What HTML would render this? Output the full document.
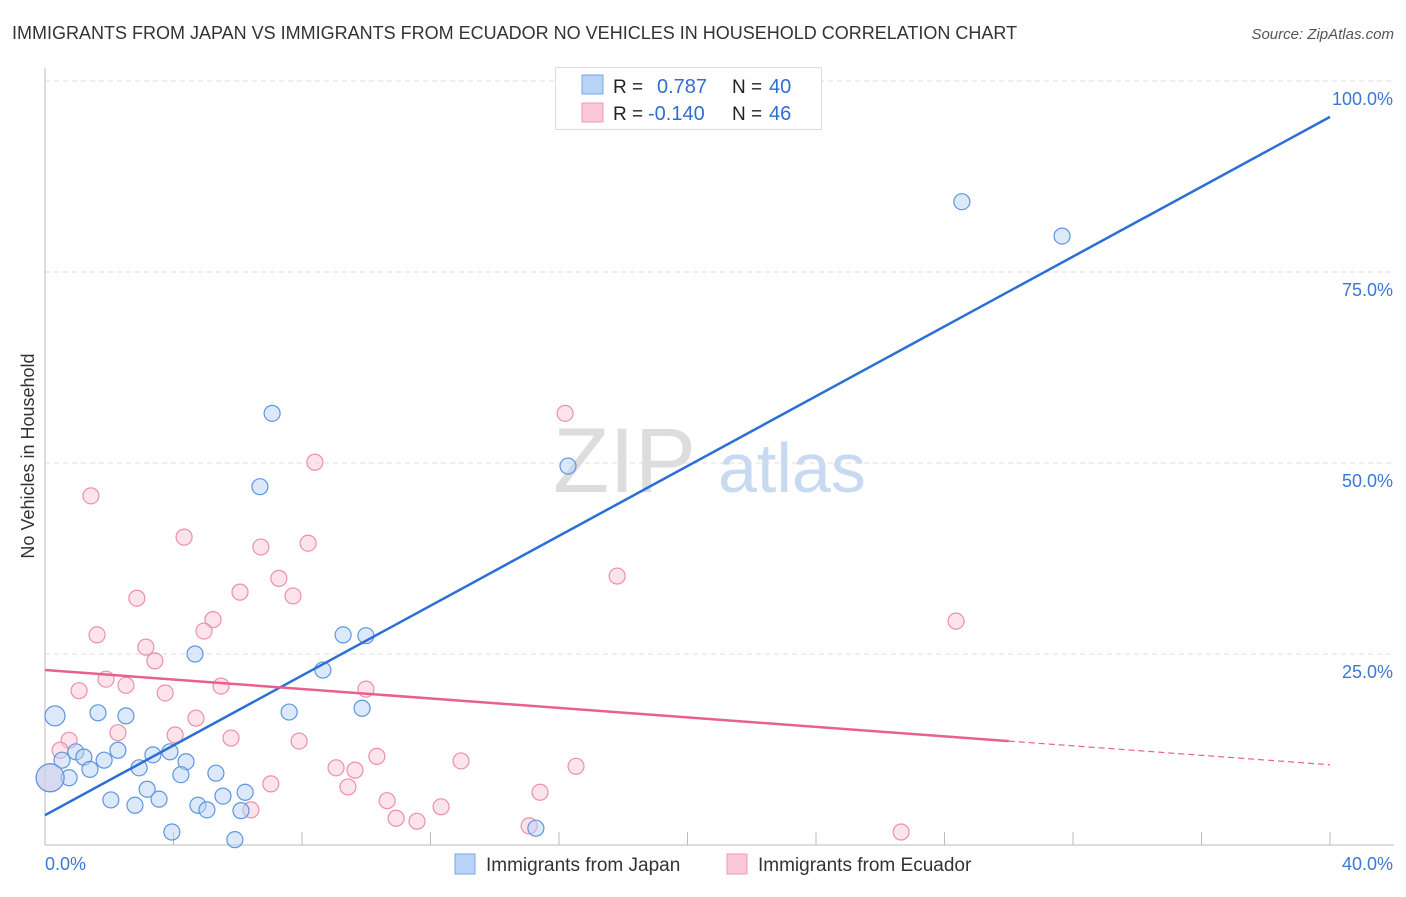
<!DOCTYPE html>
<html><head><meta charset="utf-8"><style>
body{margin:0;background:#fff;font-family:"Liberation Sans",sans-serif}
svg text{font-family:"Liberation Sans",sans-serif}
</style></head><body>
<svg id="chart" width="1406" height="892" xmlns="http://www.w3.org/2000/svg">
<text x="12" y="39" font-size="18" fill="#333">IMMIGRANTS FROM JAPAN VS IMMIGRANTS FROM ECUADOR NO VEHICLES IN HOUSEHOLD CORRELATION CHART</text>
<text x="1394" y="39" font-size="15" fill="#555" font-style="italic" text-anchor="end">Source: ZipAtlas.com</text>
<g>
<text x="553" y="492" font-size="92" fill="#ddd" font-family="Liberation Serif">ZIP</text>
<text x="718" y="492" font-size="70" fill="#c8daf2">atlas</text>
</g>
<g id="grid"></g><g id="axes"></g><g id="marks"></g>
<text x="34" y="456" font-size="18" fill="#333" text-anchor="middle" transform="rotate(-90 34 456)">No Vehicles in Household</text>
<g>
<rect x="555.5" y="67.5" width="266" height="62" fill="#fff" stroke="#ddd"/>
<rect x="582" y="75" width="21" height="19" fill="#b8d3f5" stroke="#7aa7e6"/>
<rect x="582" y="103" width="21" height="19" fill="#fbc8d6" stroke="#ee98b2"/>
<text x="613" y="93" font-size="19" fill="#222">R = </text><text x="657" y="93" font-size="20" fill="#2f6fd1">0.787</text>
<text x="732" y="93" font-size="19" fill="#222">N = </text><text x="769" y="93" font-size="20" fill="#2f6fd1">40</text>
<text x="613" y="120" font-size="19" fill="#222">R = </text><text x="648" y="120" font-size="20" fill="#2f6fd1">-0.140</text>
<text x="732" y="120" font-size="19" fill="#222">N = </text><text x="769" y="120" font-size="20" fill="#2f6fd1">46</text>
</g>
<g>
<rect x="455" y="854" width="20" height="20" fill="#b8d3f5" stroke="#7aa7e6"/>
<text x="486" y="871" font-size="19" fill="#333">Immigrants from Japan</text>
<rect x="727" y="854" width="20" height="20" fill="#fbc8d6" stroke="#ee98b2"/>
<text x="758" y="871" font-size="19" fill="#333">Immigrants from Ecuador</text>
</g>
</svg>
<script>
const japanX=[0.31,1.65,2.52,0.53,0.96,1.21,1.40,1.84,2.27,0.75,2.93,3.36,3.89,4.39,4.23,5.32,2.05,2.80,3.18,3.55,4.76,5.04,5.54,6.23,6.10,3.95,5.91,4.67,8.65,7.60,9.28,9.99,9.87,7.07,6.69,16.28,15.28,28.54,31.66,0.16];
const japanY=[16.9,17.3,16.9,11.1,12.2,11.5,9.9,11.1,12.4,8.8,10.1,11.8,12.2,10.9,9.2,9.4,5.9,5.2,7.3,6.0,5.2,4.6,6.4,6.9,4.5,1.7,0.7,25.0,22.9,17.4,27.5,27.4,17.9,56.5,46.9,49.6,2.2,84.2,79.7,8.8];
const ecuX=[1.43,4.33,8.40,16.19,6.72,8.19,2.86,6.07,7.28,7.72,5.23,4.95,1.62,3.14,3.42,1.90,2.52,3.74,5.48,1.06,9.99,17.81,28.36,4.70,4.05,2.27,0.75,0.47,5.79,7.91,10.33,12.95,16.53,7.03,9.06,9.65,9.43,10.65,12.33,15.41,10.93,11.58,15.07,26.65,6.41,0.16];
const ecuY=[45.7,40.3,50.1,56.5,39.0,39.5,32.3,33.1,34.9,32.6,29.5,28.0,27.5,25.9,24.1,21.7,20.9,19.9,20.8,20.2,20.4,35.2,29.3,16.6,14.4,14.7,13.7,12.4,14.0,13.6,11.6,11.0,10.3,8.0,10.1,9.8,7.6,5.8,5.0,6.9,3.5,3.1,2.5,1.7,4.6,8.8];
const japanTrend=[3.9,95.3];   // y at x=0 and x=40
const ecuTrend=[22.9,10.5];    // y at x=0 and x=40
const ecuSolidEnd=30;
const yTicks=[25,50,75,100];
const yTickLabels=["25.0%","50.0%","75.0%","100.0%"];
const xTicks=[0,4,8,12,16,20,24,28,32,36,40];
const NS="http://www.w3.org/2000/svg";
const X0=45,X1=1330,Y0=845,YPER=191/25;
const sx=v=>X0+(X1-X0)*v/40, sy=v=>Y0-v*YPER;
function mk(tag,attrs,parent){const e=document.createElementNS(NS,tag);for(const k in attrs)e.setAttribute(k,attrs[k]);document.getElementById(parent).appendChild(e);return e;}
yTicks.forEach((t,i)=>{
 const l=mk('line',{x1:X0,x2:1394,y1:sy(t),y2:sy(t),stroke:'#ddd','stroke-dasharray':'5,4'},'grid');
 
 
 const tx=mk('text',{x:1393,y:sy(t)+24,'font-size':18,fill:'#3a78d4','text-anchor':'end'},'grid');
 tx.textContent=yTickLabels[i];
 
 
});
const ax=mk('line',{x1:X0,x2:X0,y1:68,y2:Y0,stroke:'#bbb'},'axes');


const bx=mk('line',{x1:X0,x2:1394,y1:Y0,y2:Y0,stroke:'#bbb'},'axes');


xTicks.forEach(t=>{
 const l=mk('line',{x1:sx(t),x2:sx(t),y1:Y0-13,y2:Y0,stroke:'#bbb'},'axes');
 
 
});
const xl0=mk('text',{x:45,y:870,'font-size':18,fill:'#3a78d4'},'axes');xl0.textContent='0.0%';


const xl1=mk('text',{x:1393,y:870,'font-size':18,fill:'#3a78d4','text-anchor':'end'},'axes');xl1.textContent='40.0%';


function dots(xs,ys,fill,stroke,name){xs.forEach((x,i)=>{
 const big=(i===xs.length-1);
 const c=mk('circle',{cx:sx(x),cy:sy(ys[i]),r:big?14:(i===0&&name==='japan-point'?10:8),fill:fill,'fill-opacity':big?0.55:0.5,stroke:stroke,'stroke-width':1.2},'marks');
 
 
});}
dots(ecuX,ecuY,'#fbc8d6','#ec8fae','ecuador-point');
dots(japanX,japanY,'#b8d3f5','#5e95e0','japan-point');
const jt=mk('line',{x1:sx(0),y1:sy(japanTrend[0]),x2:sx(40),y2:sy(japanTrend[1]),stroke:'#2b6fd6','stroke-width':2.5},'marks');


const ey=x=>ecuTrend[0]+(ecuTrend[1]-ecuTrend[0])*x/40;
const et=mk('line',{x1:sx(0),y1:sy(ey(0)),x2:sx(ecuSolidEnd),y2:sy(ey(ecuSolidEnd)),stroke:'#e8608f','stroke-width':2.5},'marks');


const ed=mk('line',{x1:sx(ecuSolidEnd),y1:sy(ey(ecuSolidEnd)),x2:sx(40),y2:sy(ey(40)),stroke:'#e8608f','stroke-width':1.2,'stroke-dasharray':'6,4'},'marks');


</script>
</body></html>
